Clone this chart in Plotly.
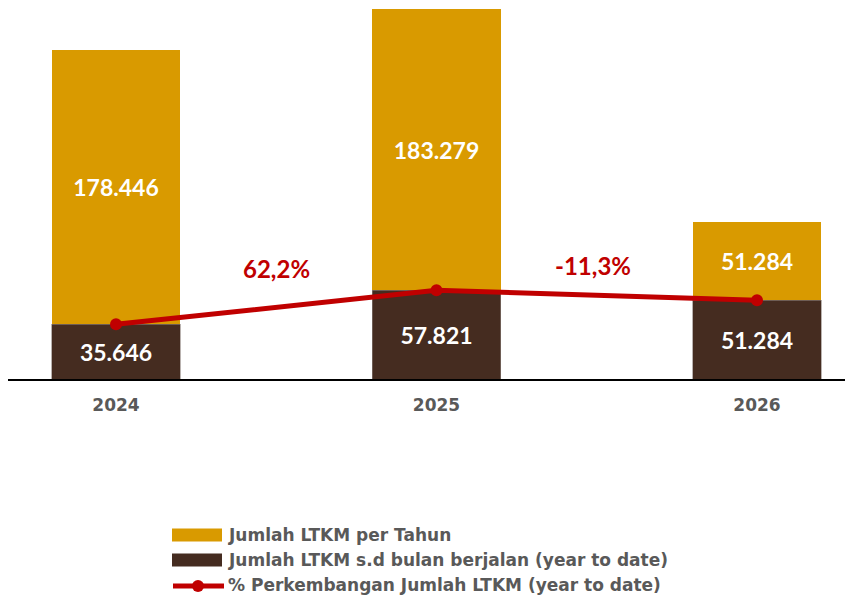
import plotly.graph_objects as go

years = ["2024", "2025", "2026"]
per_tahun = [178446, 183279, 51284]
ytd = [35646, 57821, 51284]
growth_labels = ["62,2%", "-11,3%"]

GOLD = "#D99A00"
DARK = "#452C20"
RED = "#C00000"
GREY = "#595959"
FONT = "Lato"
LFONT = "DejaVu Sans"

x = list(range(len(years)))

def fmt(v):
    return f"{v:,}".replace(",", ".")

# page offset compensation (body margin 8px)
OFF = 8
W, H = 845, 590
PT, PB = 9, 379  # plot area top/bottom in screen px
PL, PR = 8, 853

def px(sx):
    return (sx - PL) / (PR - PL)

def py(sy):
    return (PB - sy) / (PB - PT)

fig = go.Figure()
fig.add_trace(go.Bar(
    x=x, y=ytd, width=0.4, marker=dict(color=DARK, line=dict(color="#8a7f7a", width=0.6)),
    text=[fmt(v) for v in ytd], textposition="inside", insidetextanchor="middle",
    textfont=dict(color="white", size=23, family=FONT, weight=700),
    name="Jumlah LTKM s.d bulan berjalan (year to date)", showlegend=False,
))
fig.add_trace(go.Bar(
    x=x, y=per_tahun, width=0.4, marker=dict(color=GOLD, line=dict(width=0)),
    text=[fmt(v) for v in per_tahun], textposition="inside", insidetextanchor="middle",
    textfont=dict(color="white", size=23, family=FONT, weight=700),
    name="Jumlah LTKM per Tahun", showlegend=False,
))
fig.add_trace(go.Scatter(
    x=x, y=ytd, mode="lines+markers",
    line=dict(color=RED, width=5), marker=dict(color=RED, size=12),
    name="% Perkembangan Jumlah LTKM (year to date)", showlegend=False,
))

# growth labels between categories
shifts = [(0, 22), (-4, 25)]
for i, lab in enumerate(growth_labels):
    fig.add_annotation(
        x=i + 0.5, y=max(ytd[i], ytd[i + 1]), xshift=shifts[i][0], yshift=shifts[i][1],
        text=lab, showarrow=False,
        font=dict(color=RED, size=24, family=FONT, weight=700),
    )

# custom legend
legend_items = [
    ("bar", GOLD, "Jumlah LTKM per Tahun", 535),
    ("bar", DARK, "Jumlah LTKM s.d bulan berjalan (year to date)", 560),
    ("line", RED, "% Perkembangan Jumlah LTKM (year to date)", 585),
]
for kind, col, label, ypx in legend_items:
    if kind == "bar":
        fig.add_shape(type="rect", xref="paper", yref="paper",
                      x0=px(172), x1=px(222),
                      y0=py(ypx + 6.5), y1=py(ypx - 6.5),
                      fillcolor=col, line=dict(width=0))
    else:
        fig.add_shape(type="line", xref="paper", yref="paper",
                      x0=px(173), x1=px(224), y0=py(586), y1=py(586),
                      line=dict(color=col, width=5))
        fig.add_shape(type="circle", xref="paper", yref="paper",
                      x0=px(192), x1=px(204), y0=py(592), y1=py(580),
                      fillcolor=col, line=dict(width=0))
    fig.add_annotation(xref="paper", yref="paper", x=px(226), y=py(ypx),
                       xanchor="left", yanchor="middle", showarrow=False, text=label,
                       font=dict(color=GREY, size=17, family=LFONT, weight=700))

x0 = 116 - PL
step = 320.5
fig.update_layout(
    barmode="stack",
    width=W, height=H,
    margin=dict(l=PL - OFF, r=W - (PR - OFF), t=PT - OFF, b=H - (PB - OFF)),
    paper_bgcolor="white", plot_bgcolor="white",
    font=dict(family=FONT),
    showlegend=False,
    xaxis=dict(range=[-x0 / step, (PR - PL - x0) / step], tickvals=x, ticktext=years,
               showgrid=False, zeroline=False, showline=True, linecolor="black", linewidth=2,
               tickfont=dict(color=GREY, size=17, family=LFONT, weight=700), ticks="",
               ticklabelstandoff=10),
    yaxis=dict(range=[0, per_tahun[1] + ytd[1]], visible=False, showgrid=False, zeroline=False),
)

fig.write_html("out.html")
